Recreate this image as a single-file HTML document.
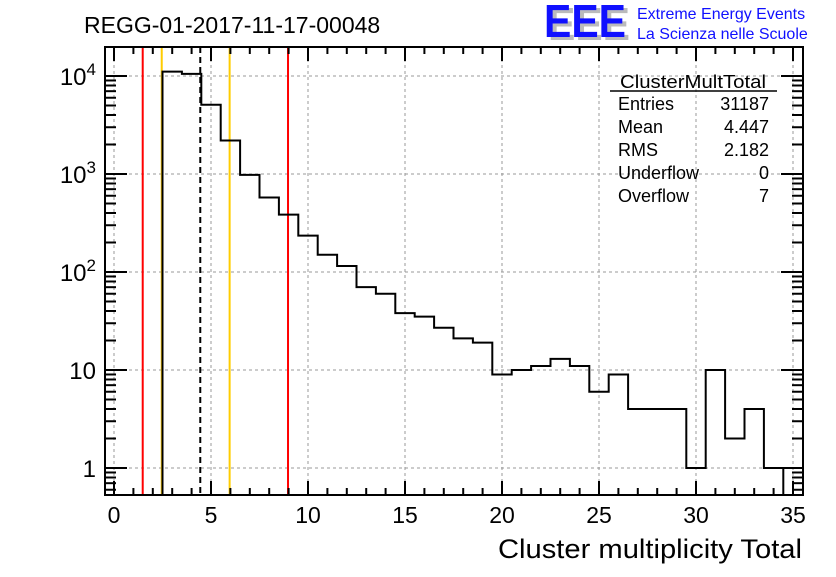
<!DOCTYPE html>
<html><head><meta charset="utf-8"><style>
body{margin:0;background:#fff;}
svg text{font-family:"Liberation Sans",sans-serif;}
</style></head><body>
<svg id="c" width="836" height="572" xmlns="http://www.w3.org/2000/svg">
<rect width="836" height="572" fill="#fff"/>
<text x="84" y="33" font-size="23">REGG-01-2017-11-17-00048</text>
<g>
<text x="548" y="40" font-size="46" font-weight="bold" fill="#bbb" textLength="82" lengthAdjust="spacingAndGlyphs">EEE</text>
<text x="544" y="37" font-size="46" font-weight="bold" fill="#1010ff" textLength="82" lengthAdjust="spacingAndGlyphs">EEE</text>
<text x="637" y="19" font-size="16" fill="#1010ff">Extreme Energy Events</text>
<text x="637" y="39" font-size="16" fill="#1010ff">La Scienza nelle Scuole</text>
</g>
<g id="grid"></g>
<g id="marks"></g>
<g id="axes"></g>
<g font-size="18">
<text x="620" y="88" textLength="146" lengthAdjust="spacingAndGlyphs">ClusterMultTotal</text>
<line x1="610" y1="91" x2="777" y2="91" stroke="#000" stroke-width="1.5"/>
<text x="618" y="110">Entries</text><text x="769" y="110" text-anchor="end">31187</text>
<text x="618" y="133">Mean</text><text x="769" y="133" text-anchor="end">4.447</text>
<text x="618" y="156">RMS</text><text x="769" y="156" text-anchor="end">2.182</text>
<text x="618" y="179">Underflow</text><text x="769" y="179" text-anchor="end">0</text>
<text x="618" y="202">Overflow</text><text x="769" y="202" text-anchor="end">7</text>
</g>
<text x="498" y="558" font-size="27" textLength="304" lengthAdjust="spacingAndGlyphs">Cluster multiplicity Total</text>
</svg>
<script>
const binLow = [2.5,3.5,4.5,5.5,6.5,7.5,8.5,9.5,10.5,11.5,12.5,13.5,14.5,15.5,16.5,17.5,18.5,19.5,20.5,21.5,22.5,23.5,24.5,25.5,26.5,27.5,28.5,29.5,30.5,31.5,32.5,33.5];
const counts = [11070,10500,5090,2200,980,575,385,235,150,115,70,60,38,35,27,21,19,9,10,11,13,11,6,9,4,4,4,1,10,2,4,1];
const xTicks = [0,5,10,15,20,25,30,35];
const yDecades = [1,10,100,1000,10000];
const yBase = ["1","10","10","10","10"];
const yExp = ["","","2","3","4"];
const redLines = [1.48,8.97];
const yellowLines = [2.46,5.96];
const meanLine = [4.447];

const L=105,R=803,T=47,B=495;
const X=v=>114+v*19.4;
const Y=v=>76+(4-Math.log10(v))*98;
const NS="http://www.w3.org/2000/svg";
function mk(tag,attrs,parent){const e=document.createElementNS(NS,tag);for(const k in attrs)e.setAttribute(k,attrs[k]);parent.appendChild(e);return e;}
const grid=document.getElementById('grid'),marks=document.getElementById('marks'),axes=document.getElementById('axes');
xTicks.forEach(t=>{const g=mk('line',{x1:X(t),x2:X(t),y1:T,y2:B,stroke:'#999','stroke-dasharray':'3,3'},grid);

});
yDecades.forEach(t=>{const g=mk('line',{x1:L,x2:R,y1:Y(t),y2:Y(t),stroke:'#999','stroke-dasharray':'3,3'},grid);

});
let d=`M${X(binLow[0])},${B}`;
binLow.forEach((lo,i)=>{d+=` L${X(lo)},${Y(counts[i])} L${X(lo+1)},${Y(counts[i])}`;});
d+=` L${X(binLow[binLow.length-1]+1)},${B}`;
const h=mk('path',{d:d,fill:'none',stroke:'#000','stroke-width':2},marks);


function vline(v,col,dash,name){const e=mk('line',{x1:X(v),x2:X(v),y1:T,y2:B,stroke:col,'stroke-width':2},marks);if(dash)e.setAttribute('stroke-dasharray',dash);

}
redLines.forEach(v=>vline(v,'#f00',null,'red-marker-line'));
yellowLines.forEach(v=>vline(v,'#fc0',null,'yellow-marker-line'));
meanLine.forEach(v=>vline(v,'#000','6,4','mean-line'));
marks.appendChild(h);
const fr=mk('rect',{x:L,y:T,width:R-L,height:B-T,fill:'none',stroke:'#000','stroke-width':2},axes);


for(let v=0;v<=35;v++){const major=v%5===0;const len=major?14:7;
mk('line',{x1:X(v),x2:X(v),y1:B,y2:B-len,stroke:'#000','stroke-width':2},axes);
mk('line',{x1:X(v),x2:X(v),y1:T,y2:T+len,stroke:'#000','stroke-width':2},axes);}
xTicks.forEach(t=>{const tx=mk('text',{x:X(t),y:523,'font-size':23,'text-anchor':'middle'},axes);tx.textContent=t;

});
for(let dec=0.1;dec<=10000;dec*=10){for(let m=1;m<10;m++){const v=dec*m;const y=Y(v);if(y<T||y>B)continue;const len=m===1?22:11;
mk('line',{x1:L,x2:L+len,y1:y,y2:y,stroke:'#000','stroke-width':2},axes);
mk('line',{x1:R,x2:R-len,y1:y,y2:y,stroke:'#000','stroke-width':2},axes);}}
yDecades.forEach((t,i)=>{const tx=mk('text',{x:96,y:Y(t)+9,'font-size':24,'text-anchor':'end'},axes);


const b=mk('tspan',{},tx);b.textContent=yBase[i];
if(yExp[i]){const s=mk('tspan',{dy:-10,'font-size':17},tx);s.textContent=yExp[i];}});
</script>
</body></html>
